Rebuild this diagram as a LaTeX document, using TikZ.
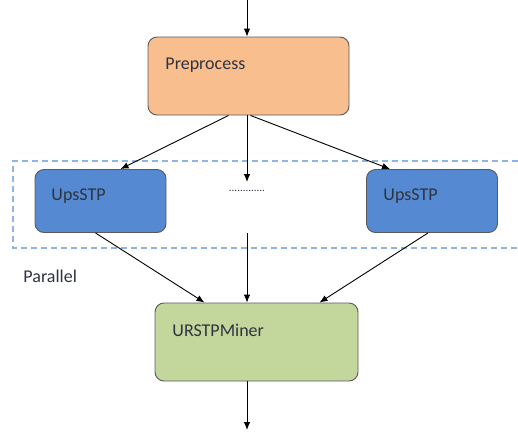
\documentclass[tikz,border=0pt]{standalone}
\usepackage{fontspec}
\setmainfont{Carlito}
\usetikzlibrary{arrows.meta}
\definecolor{preorange}{HTML}{F9BE8E}
\definecolor{upsblue}{HTML}{558AD2}
\definecolor{minergreen}{HTML}{C3D69B}
\definecolor{boxline}{HTML}{5A5A5A}
\definecolor{textgray}{HTML}{2F3340}
\definecolor{parblue}{HTML}{8EB4E3}
\begin{document}
\begin{tikzpicture}[x=1pt, y=-1pt, >={Latex[length=8pt,width=6.5pt]},
  font=\fontsize{18}{21}\selectfont, line width=0.9pt,
  box/.style={draw=boxline, line width=0.9pt, rounded corners=9pt},
  boxtext/.style={anchor=west, text=textgray, inner sep=0pt}]
\useasboundingbox (0,0) rectangle (518,434);

% parallel region
\draw[parblue, line width=1.5pt, dash pattern=on 6pt off 4pt] (518,161) -| (13,248) -- (518,248);
\node[boxtext] (par) at (23,276) {Parallel};

% boxes
\node[box, fill=preorange, minimum width=201pt, minimum height=78pt] (pre) at (248.5,76) {};
\node[boxtext] (pretxt) at (165,65) {Preprocess};
\node[box, fill=upsblue, minimum width=131pt, minimum height=63pt] (ups1) at (100.5,201) {};
\node[boxtext] (ups1txt) at (51,196) {UpsSTP};
\node[box, fill=upsblue, minimum width=131pt, minimum height=63pt] (ups2) at (432,201) {};
\node[boxtext] (ups2txt) at (383,196) {UpsSTP};
\node[box, fill=minergreen, minimum width=203pt, minimum height=78pt] (miner) at (256.5,342) {};
\node[boxtext] (minertxt) at (172,330) {URSTPMiner};
\node[inner sep=0pt, text=textgray, font=\fontsize{11}{12}\selectfont] (dots) at (247,191) {.............};

\coordinate (in) at (247,0);
\coordinate (out) at (247,430);
\coordinate (gapt) at (247,182);
\coordinate (gapb) at (247,233);

% connectors
\draw[->] (in) -- (in |- pre.north);
\draw[->] ([xshift=-20pt]pre.south) -- ([xshift=20pt]ups1.north);
\draw[->] ([xshift=2pt]pre.south) -- ([xshift=-42pt]ups2.north);
\draw[->] (gapt |- pre.south) -- (gapt);
\draw[->] (gapb) -- (gapb |- miner.north);
\draw[->] ([xshift=-5pt]ups1.south) -- ([xshift=-52pt]miner.north);
\draw[->] ([xshift=-4pt]ups2.south) -- ([xshift=63pt]miner.north);
\draw[->] (out |- miner.south) -- (out);
\end{tikzpicture}
\end{document}
